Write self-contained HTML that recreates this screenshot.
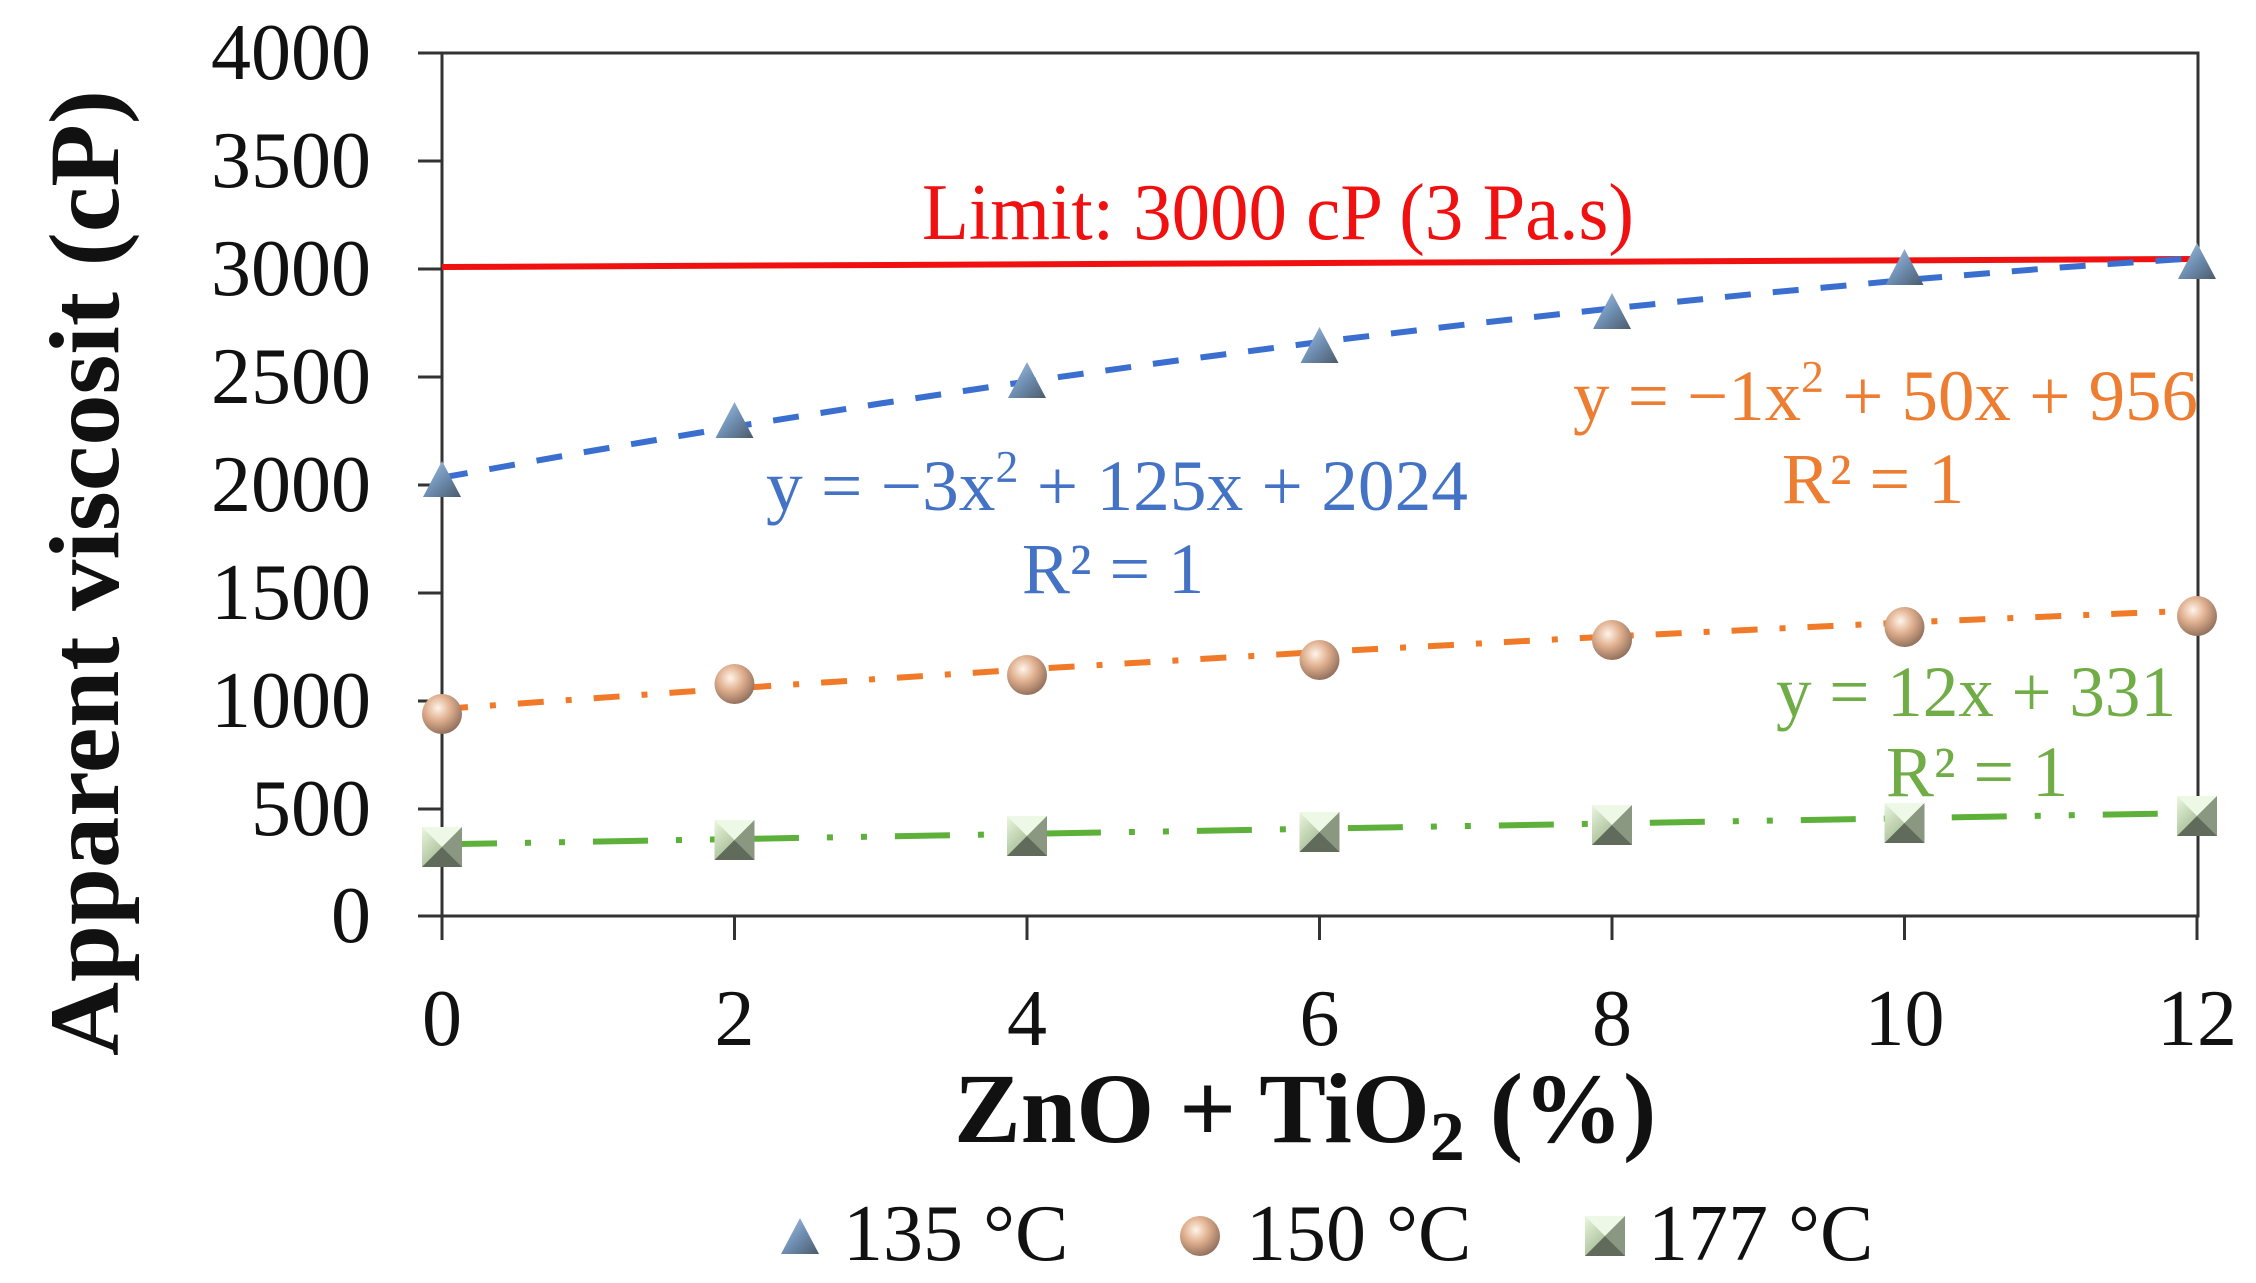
<!DOCTYPE html>
<html><head><meta charset="utf-8"><style>html,body{margin:0;padding:0;background:#fff}svg{display:block}</style></head>
<body>
<svg width="2256" height="1283" viewBox="0 0 2256 1283" xmlns="http://www.w3.org/2000/svg" font-family="'Liberation Serif', serif">
<defs>
<linearGradient id="tri" x1="0" y1="0" x2="1" y2="1"><stop offset="0" stop-color="#a9c7e8"/><stop offset="0.5" stop-color="#6f8fb3"/><stop offset="1" stop-color="#4b5a6a"/></linearGradient>
<radialGradient id="sph" cx="0.4" cy="0.35" r="0.7"><stop offset="0" stop-color="#fff4ea"/><stop offset="0.45" stop-color="#e0b08f"/><stop offset="1" stop-color="#8a6a58"/></radialGradient>
<linearGradient id="sq" x1="0" y1="0" x2="1" y2="1"><stop offset="0" stop-color="#eaf7df"/><stop offset="0.5" stop-color="#b5c9a5"/><stop offset="1" stop-color="#5e6a58"/></linearGradient>
<g id="T"><polygon points="0,-22 19,14 -19,14" fill="url(#tri)"/></g>
<g id="C"><circle r="20" fill="url(#sph)"/></g>
<g id="S"><rect x="-20" y="-20" width="40" height="40" fill="url(#sq)"/><polygon points="-20,-20 20,-20 0,0" fill="#eef8e6"/><polygon points="20,20 -20,20 0,0" fill="#616b5b"/><polygon points="20,-20 20,20 0,0" fill="#8a9882"/></g>
</defs>
<g stroke="#333" stroke-width="3" fill="none">
<path d="M442 53 H2198 V916 H442 Z"/>
<path d="M418 53H442M418 161H442M418 269H442M418 377H442M418 485H442M418 593H442M418 701H442M418 809H442M418 916H442"/>
<path d="M442 916V940M734.5 916V940M1027 916V940M1319.5 916V940M1612 916V940M1904.5 916V940M2197 916V940"/>
</g>
<g font-size="80" text-anchor="end" fill="#111">
<text x="371" y="79">4000</text><text x="371" y="187">3500</text><text x="371" y="295">3000</text><text x="371" y="403">2500</text><text x="371" y="511">2000</text><text x="371" y="619">1500</text><text x="371" y="727">1000</text><text x="371" y="835">500</text><text x="371" y="942">0</text>
</g>
<g font-size="80" text-anchor="middle" fill="#111">
<text x="442" y="1045">0</text><text x="734.5" y="1045">2</text><text x="1027" y="1045">4</text><text x="1319.5" y="1045">6</text><text x="1612" y="1045">8</text><text x="1904.5" y="1045">10</text><text x="2197" y="1045">12</text>
</g>
<text transform="translate(118,573) rotate(-90)" text-anchor="middle" font-size="100" font-weight="bold" fill="#111" textLength="966" lengthAdjust="spacingAndGlyphs">Apparent viscosit (cP)</text>
<text x="954" y="1142" font-size="100" font-weight="bold" fill="#111">ZnO + TiO<tspan font-size="70" dy="18">2</tspan><tspan dy="-18"> (%)</tspan></text>
<line x1="442" y1="267" x2="2198" y2="259" stroke="#f01010" stroke-width="6"/>
<text x="922" y="239" font-size="80" fill="#f01010" textLength="712" lengthAdjust="spacingAndGlyphs">Limit: 3000 cP (3 Pa.s)</text>
<polyline fill="none" stroke="#3a6fd0" stroke-width="6" stroke-dasharray="26 22" points="442,477.6 588,451.5 734.5,426.7 881,403.4 1027,381.5 1173,361.1 1319.5,342 1466,324.5 1612,308.4 1758,293.6 1904.5,280.1 2051,268.1 2197,258"/>
<polyline fill="none" stroke="#f07a28" stroke-width="6" stroke-dasharray="26 22 6 22" points="442,709 734.5,688.3 1027,669.3 1319.5,652 1612,636.4 1904.5,622.5 2197,610.4"/>
<polyline fill="none" stroke="#5db03a" stroke-width="6" stroke-dasharray="55 28 6 28 6 28" points="442,844.3 2197,813"/>
<g>
<use href="#T" x="442" y="483"/><use href="#T" x="734.5" y="424"/><use href="#T" x="1027" y="384"/><use href="#T" x="1319.5" y="349"/><use href="#T" x="1612" y="315"/><use href="#T" x="1904.5" y="271"/><use href="#T" x="2197" y="265"/>
<use href="#C" x="442" y="714"/><use href="#C" x="734.5" y="684"/><use href="#C" x="1027" y="675"/><use href="#C" x="1319.5" y="660"/><use href="#C" x="1612" y="640"/><use href="#C" x="1904.5" y="627"/><use href="#C" x="2197" y="616"/>
<use href="#S" x="442" y="847"/><use href="#S" x="734.5" y="840"/><use href="#S" x="1027" y="836"/><use href="#S" x="1319.5" y="832"/><use href="#S" x="1612" y="825"/><use href="#S" x="1904.5" y="823"/><use href="#S" x="2197" y="816"/>
</g>
<g font-size="72">
<text x="766" y="510" fill="#4472c4" textLength="702" lengthAdjust="spacingAndGlyphs">y = −3x<tspan font-size="45" dy="-28">2</tspan><tspan dy="28"> + 125x + 2024</tspan></text>
<text x="1113" y="593" fill="#4472c4" text-anchor="middle">R² = 1</text>
<text x="1573" y="420" fill="#ed7d31" textLength="625" lengthAdjust="spacingAndGlyphs">y = −1x<tspan font-size="45" dy="-28">2</tspan><tspan dy="28"> + 50x + 956</tspan></text>
<text x="1873" y="503" fill="#ed7d31" text-anchor="middle">R² = 1</text>
<text x="1776" y="716" fill="#70ad47" textLength="400" lengthAdjust="spacingAndGlyphs">y = 12x + 331</text>
<text x="1977" y="796" fill="#70ad47" text-anchor="middle">R² = 1</text>
</g>
<use href="#T" x="800" y="1240"/>
<text x="843" y="1260" font-size="80" fill="#111">135 °C</text>
<use href="#C" x="1200" y="1236"/>
<text x="1246" y="1260" font-size="80" fill="#111">150 °C</text>
<use href="#S" x="1605" y="1236"/>
<text x="1648" y="1260" font-size="80" fill="#111">177 °C</text>
</svg>
</body></html>
